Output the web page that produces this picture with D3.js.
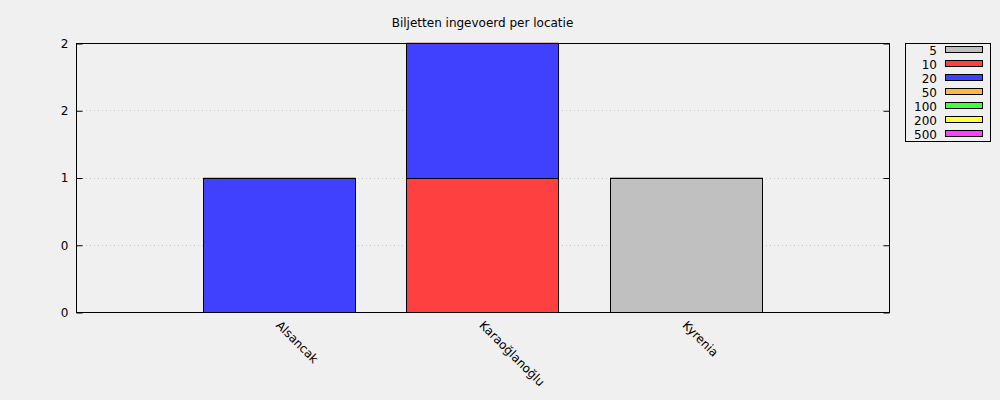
<!DOCTYPE html>
<html>
<head>
<meta charset="utf-8">
<script src="https://cdn.jsdelivr.net/npm/d3@7"></script>
<style>
  html, body { margin: 0; padding: 0; background: #f0f0f0; }
  svg { display: block; font-family: "DejaVu Sans", sans-serif; }
</style>
</head>
<body>
<svg id="chart" width="1000" height="400"></svg>
<script>
const title = "Biljetten ingevoerd per locatie";
const categories = ["Alsancak", "Karaoğlanoğlu", "Kyrenia"];
const seriesNames = ["5", "10", "20", "50", "100", "200", "500"];
const seriesColors = ["#c0c0c0", "#ff4040", "#4040ff", "#ffb840", "#40ff40", "#ffff40", "#ff40ff"];
const v5   = [0, 0, 1];
const v10  = [0, 1, 0];
const v20  = [1, 1, 0];
const v50  = [0, 0, 0];
const v100 = [0, 0, 0];
const v200 = [0, 0, 0];
const v500 = [0, 0, 0];
const yTicks = [0, 0.5, 1, 1.5, 2];
const yTickLabels = ["0", "0", "1", "2", "2"];

const seriesValues = [v5, v10, v20, v50, v100, v200, v500];
const rows = categories.map((c, i) => {
  const r = { cat: c, idx: i };
  seriesNames.forEach((s, k) => r[s] = seriesValues[k][i]);
  return r;
});

const svg = d3.select("#chart");
const margin = { left: 76, right: 111, top: 43, bottom: 88 };
const W = 1000, H = 400;
const x0 = margin.left, x1 = W - margin.right, y0 = H - margin.bottom, y1 = margin.top;

const x = d3.scaleLinear().domain([-1, categories.length]).range([x0, x1]);
const y = d3.scaleLinear().domain([0, 2]).range([y0, y1]);
const barW = (x(1) - x(0)) * 0.75;

// grid lines
svg.append("g").selectAll("line").data(yTicks.filter(t => t > 0 && t < 2)).join("line")
  .attr("x1", x0 + 6).attr("x2", x1 - 6)
  .attr("y1", d => Math.round(y(d)) + 0.5).attr("y2", d => Math.round(y(d)) + 0.5)
  .attr("stroke", "#c8c8c8").attr("stroke-dasharray", "1,3").attr("stroke-width", 1);

// stacked bars
const stack = d3.stack().keys(seriesNames)(rows);
const gBars = svg.append("g");
stack.forEach((layer, k) => {
  layer.forEach((seg, i) => {
    const xl = Math.round(x(i) - barW / 2) + 0.5;
    const w = Math.round(barW);
    const top = Math.round(y(seg[1])) + 0.5;
    const bot = Math.round(y(seg[0])) + 0.5;
    if (seg[1] - seg[0] > 0) {
      gBars.append("rect")
        .attr("x", xl).attr("y", top).attr("width", w).attr("height", bot - top)
        .attr("fill", seriesColors[k]).attr("stroke", "#000").attr("stroke-width", 1);
    } else if (seg[0] > 0) {
      gBars.append("line")
        .attr("x1", xl).attr("x2", xl + w).attr("y1", top - 1).attr("y2", top - 1)
        .attr("stroke", seriesColors[k]).attr("stroke-opacity", 0.35);
    }
  });
});

// frame
svg.append("rect").attr("x", x0 + 0.5).attr("y", y1 + 0.5)
  .attr("width", x1 - x0).attr("height", y0 - y1)
  .attr("fill", "none").attr("stroke", "#000").attr("stroke-width", 1);

// y axis left and right (ticks inward)
const yAxisL = d3.axisLeft(y).tickValues(yTicks).tickSize(-6).tickPadding(8)
  .tickFormat((d, i) => yTickLabels[i]);
const gL = svg.append("g").attr("transform", `translate(${x0 + 0.5},0.5)`).call(yAxisL);
gL.select(".domain").remove();
gL.selectAll("text").attr("font-size", 12).attr("fill", "#000").attr("font-family", "DejaVu Sans, sans-serif");

const yAxisR = d3.axisRight(y).tickValues(yTicks).tickSize(-6).tickFormat("");
const gR = svg.append("g").attr("transform", `translate(${x1 + 0.5},0.5)`).call(yAxisR);
gR.select(".domain").remove();

// x labels rotated
svg.append("g").selectAll("text").data(categories).join("text")
  .attr("transform", (d, i) => `translate(${x(i) + 2},${y0 + 8}) rotate(45)`)
  .attr("text-anchor", "start").attr("dy", "0.7em")
  .attr("font-size", 12).attr("fill", "#000")
  .text(d => d);

// title
svg.append("text").attr("x", (x0 + x1) / 2).attr("y", 27)
  .attr("text-anchor", "middle").attr("font-size", 12).attr("fill", "#000")
  .text(title);

// legend
const lg = svg.append("g");
lg.append("rect").attr("x", 905.5).attr("y", 43.5).attr("width", 85).attr("height", 98)
  .attr("fill", "none").attr("stroke", "#000");
seriesNames.forEach((s, k) => {
  const cy = 50 + k * 14;
  lg.append("text").attr("x", 937).attr("y", cy + 1).attr("dy", "0.35em")
    .attr("text-anchor", "end").attr("font-size", 12).attr("fill", "#000").text(s);
  lg.append("rect").attr("x", 945.5).attr("y", cy - 3.5).attr("width", 37).attr("height", 6)
    .attr("fill", seriesColors[k]).attr("stroke", "#000");
});
</script>
</body>
</html>
